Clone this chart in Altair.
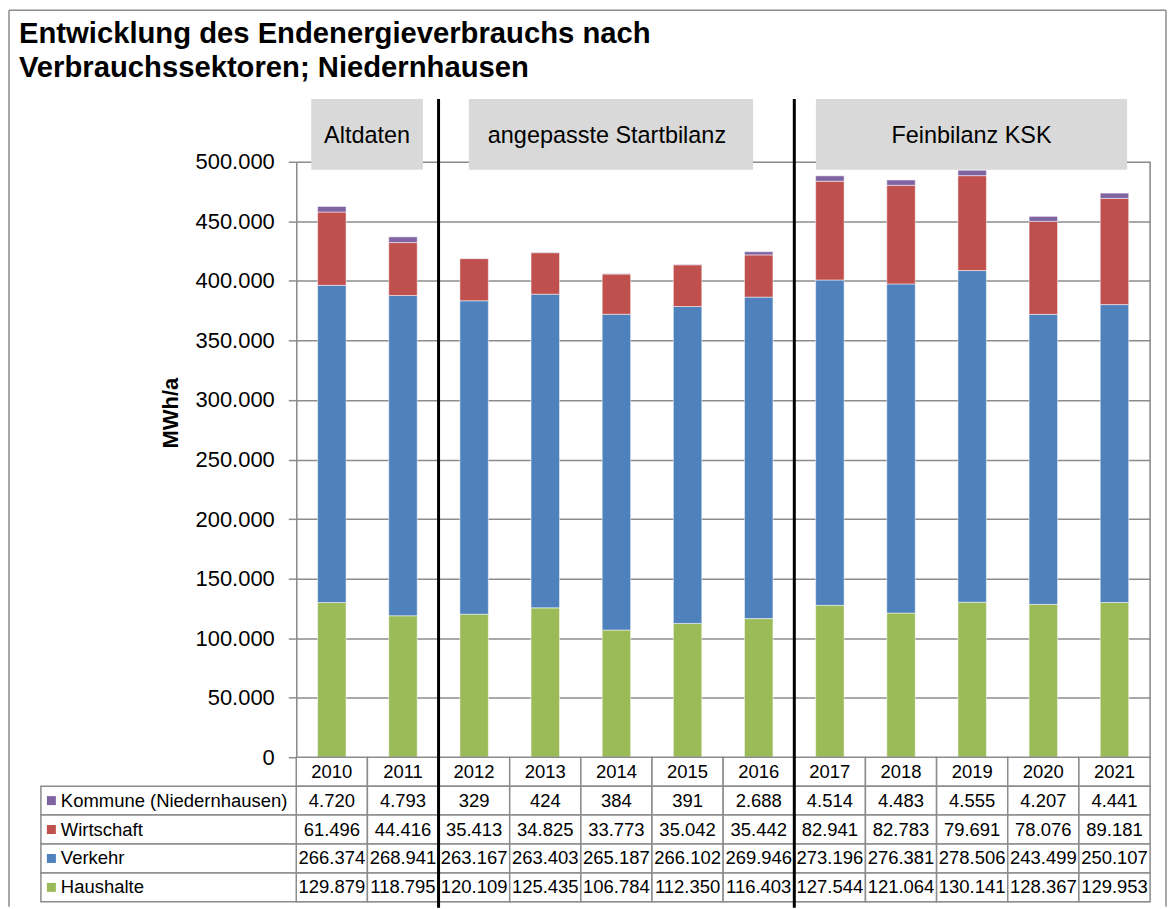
import altair as alt
import pandas as pd

# ---------------- data ----------------
years = ['2010', '2011', '2012', '2013', '2014', '2015', '2016',
         '2017', '2018', '2019', '2020', '2021']
kommune = [4720, 4793, 329, 424, 384, 391, 2688, 4514, 4483, 4555, 4207, 4441]
wirtschaft = [61496, 44416, 35413, 34825, 33773, 35042, 35442,
              82941, 82783, 79691, 78076, 89181]
verkehr = [266374, 268941, 263167, 263403, 265187, 266102, 269946,
           273196, 276381, 278506, 243499, 250107]
haushalte = [129879, 118795, 120109, 125435, 106784, 112350, 116403,
             127544, 121064, 130141, 128367, 129953]
sectors = ['Haushalte', 'Verkehr', 'Wirtschaft', 'Kommune (Niedernhausen)']
sector_colors = ['#9BBB59', '#4F81BD', '#C0504D', '#8064A2']
table_rows = ['Jahr', 'Kommune (Niedernhausen)', 'Wirtschaft', 'Verkehr', 'Haushalte']
phase_labels = ['Altdaten', 'angepasste Startbilanz', 'Feinbilanz KSK']
phase_breaks = ['2012', '2017']
y_ticks = list(range(0, 500001, 50000))
title_lines = ['Entwicklung des Endenergieverbrauchs nach',
               'Verbrauchssektoren; Niedernhausen']
y_title = 'MWh/a'

series = {'Haushalte': haushalte, 'Verkehr': verkehr,
          'Wirtschaft': wirtschaft, 'Kommune (Niedernhausen)': kommune}


def de(v):
    return f"{v:,}".replace(',', '.')


bar_rows = []
for si, s in enumerate(sectors):
    for y, v in zip(years, series[s]):
        bar_rows.append({'Jahr': y, 'Sektor': s, 'Wert': v, 'idx': si})
bar_df = pd.DataFrame(bar_rows)

cell_rows = []
for y_i, y in enumerate(years):
    cell_rows.append({'Jahr': y, 'Zeile': 'Jahr', 'Text': y})
    for s in table_rows[1:]:
        cell_rows.append({'Jahr': y, 'Zeile': s, 'Text': de(series[s][y_i])})
cell_df = pd.DataFrame(cell_rows)
label_df = pd.DataFrame({'Zeile': table_rows[1:], 'Sektor': table_rows[1:]})
break_df = pd.DataFrame({'Jahr': phase_breaks})

FONT = 'Liberation Sans'
GRID = '#8C8C8C'
W, H_PLOT, H_TAB = 856, 597, 145

one = pd.DataFrame({'a': [0]})

# ---------------- scales ----------------
x_bar = alt.Scale(domain=years, paddingInner=0.6, paddingOuter=0.3)
x_tab = alt.Scale(domain=years, paddingInner=0, paddingOuter=0)
y_tab = alt.Scale(domain=table_rows, range=[H_PLOT, H_PLOT + H_TAB],
                  paddingInner=0, paddingOuter=0)
color_scale = alt.Scale(domain=sectors, range=sector_colors)


def vrule(x, y1, y2, color=GRID, width=1.5):
    return alt.Chart(one).mark_rule(color=color, strokeWidth=width).encode(
        x=alt.value(x), y=alt.value(y1), y2=alt.value(y2))


def hrule(y, x1, x2, color=GRID, width=1.5):
    return alt.Chart(one).mark_rule(color=color, strokeWidth=width).encode(
        y=alt.value(y), x=alt.value(x1), x2=alt.value(x2))


def box(x1, x2, y1, y2, fill='#D9D9D9'):
    return alt.Chart(one).mark_rect(color=fill).encode(
        x=alt.value(x1), x2=alt.value(x2), y=alt.value(y1), y2=alt.value(y2))


def label(txt, x, y, size, weight='normal', align='center', angle=0,
          baseline='alphabetic'):
    return alt.Chart(pd.DataFrame({'t': [txt]})).mark_text(
        font=FONT, fontSize=size, fontWeight=weight, align=align,
        baseline=baseline, angle=angle, color='black').encode(
        text='t:N', x=alt.value(x), y=alt.value(y))


# ---------------- bar part ----------------
bars = alt.Chart(bar_df).mark_bar(stroke='white', strokeWidth=1, strokeOpacity=0.5).encode(
    x=alt.X('Jahr:N', scale=x_bar, axis=None),
    y=alt.Y('Wert:Q', stack='zero',
            scale=alt.Scale(domain=[0, 500000], range=[H_PLOT, 0], nice=False, zero=True),
            axis=alt.Axis(values=y_ticks, title=None, grid=True, gridColor=GRID,
                          gridWidth=1.5, domainColor=GRID, domainWidth=1.5,
                          tickColor=GRID, tickWidth=1.5, tickSize=8,
                          labelFont=FONT, labelFontSize=22, labelColor='black',
                          labelPadding=14,
                          labelExpr="replace(format(datum.value, ',d'), ',', '.')")),
    color=alt.Color('Sektor:N', scale=color_scale, legend=None),
    order=alt.Order('idx:Q'),
)

bar_group = alt.layer(
    bars,
    vrule(W, 0, H_PLOT),
    box(15, 127, -63, 8),
    box(173, 458, -63, 8),
    box(521, 833, -63, 8),
    label(phase_labels[0], 71, -19, 23.5),
    label(phase_labels[1], 311.5, -19, 23.5),
    label(phase_labels[2], 677, -19, 23.5),
    label(title_lines[0], -278, -119, 29.3, weight='bold', align='left'),
    label(title_lines[1], -278, -85, 29.3, weight='bold', align='left'),
    label(y_title, -126, 252, 22, weight='bold', angle=270, baseline='middle'),
    # outer chart frame
    vrule(-288, -152, 747),
    vrule(872, -152, 747),
    hrule(-152, -288, 872),
)

# ---------------- data table part ----------------
cells = alt.Chart(cell_df).mark_rect(fill='white', stroke=GRID, strokeWidth=1.5).encode(
    x=alt.X('Jahr:N', scale=x_tab, axis=None),
    y=alt.Y('Zeile:N', scale=y_tab, axis=None),
)
cell_text = alt.Chart(cell_df).mark_text(font=FONT, fontSize=18.5, color='black',
                                         baseline='middle').encode(
    x=alt.X('Jahr:N', scale=x_tab, axis=None),
    y=alt.Y('Zeile:N', scale=y_tab, axis=None),
    text='Text:N',
)
label_cells = alt.Chart(label_df).mark_rect(fill='white', stroke=GRID, strokeWidth=1.5).encode(
    x=alt.value(-256), x2=alt.value(0),
    y=alt.Y('Zeile:N', scale=y_tab, axis=None),
)
label_squares = alt.Chart(label_df).mark_square(size=81, opacity=1).encode(
    x=alt.value(-245.5),
    y=alt.Y('Zeile:N', scale=y_tab, axis=None),
    color=alt.Color('Sektor:N', scale=color_scale, legend=None),
)
label_text = alt.Chart(label_df).mark_text(font=FONT, fontSize=18.5, color='black',
                                          align='left', baseline='middle').encode(
    x=alt.value(-236),
    y=alt.Y('Zeile:N', scale=y_tab, axis=None),
    text='Zeile:N',
)
breaks = alt.Chart(break_df).mark_rule(color='black', strokeWidth=3).encode(
    x=alt.X('Jahr:N', scale=x_tab, axis=None, bandPosition=0),
    y=alt.value(-63), y2=alt.value(748),
)

table_group = alt.layer(cells, cell_text, label_cells, label_squares, label_text, breaks)

chart = alt.layer(bar_group, table_group).resolve_scale(
    x='independent', y='independent'
).properties(
    width=W, height=H_PLOT + H_TAB, padding=0
).configure_view(stroke=None).configure(font=FONT)

chart.save("out.html", embed_options={"renderer": "svg", "actions": False})
